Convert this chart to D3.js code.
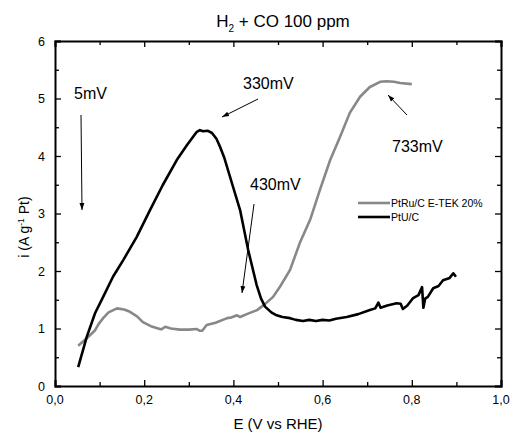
<!DOCTYPE html>
<html><head><meta charset="utf-8">
<script src="https://cdn.jsdelivr.net/npm/d3@7"></script>
<style>body{margin:0;background:#fff}svg{font-family:"Liberation Sans",Arial,sans-serif}</style>
</head><body><svg id="c" width="511" height="433"></svg>
<script>
const xTicks = [0,0.2,0.4,0.6,0.8,1.0];
const yTicks = [0,1,2,3,4,5,6];
const seriesNames = ["PtRu/C E-TEK 20%","PtU/C"];
const ptruE = [0.052,0.07,0.09,0.098,0.108,0.12,0.139,0.155,0.168,0.184,0.197,0.215,0.235,0.24,0.247,0.26,0.28,0.3,0.318,0.325,0.33,0.334,0.34,0.36,0.386,0.395,0.408,0.415,0.43,0.453,0.47,0.489,0.504,0.527,0.549,0.572,0.594,0.617,0.639,0.661,0.684,0.706,0.729,0.744,0.76,0.774,0.80];
const ptruI = [0.70,0.82,0.97,1.08,1.18,1.28,1.35,1.33,1.29,1.21,1.11,1.04,0.99,0.99,1.03,1.00,0.98,0.98,0.99,0.96,0.96,1.00,1.06,1.10,1.18,1.19,1.23,1.20,1.25,1.32,1.42,1.55,1.72,2.02,2.49,2.89,3.41,3.93,4.33,4.75,5.03,5.20,5.29,5.30,5.29,5.27,5.25];
const ptuE = [0.052,0.071,0.09,0.108,0.13,0.153,0.183,0.213,0.242,0.273,0.296,0.318,0.325,0.332,0.342,0.352,0.362,0.37,0.38,0.39,0.415,0.433,0.452,0.462,0.471,0.485,0.497,0.51,0.527,0.54,0.556,0.57,0.585,0.60,0.615,0.63,0.654,0.68,0.706,0.718,0.725,0.73,0.745,0.766,0.775,0.78,0.79,0.803,0.815,0.823,0.826,0.83,0.836,0.848,0.86,0.87,0.885,0.893,0.899];
const ptuI = [0.33,0.85,1.27,1.55,1.90,2.19,2.59,3.06,3.50,3.93,4.19,4.42,4.45,4.43,4.44,4.40,4.30,4.16,3.96,3.70,3.06,2.37,1.76,1.52,1.38,1.28,1.23,1.20,1.18,1.15,1.13,1.15,1.13,1.15,1.14,1.17,1.20,1.25,1.32,1.35,1.45,1.36,1.40,1.44,1.43,1.34,1.40,1.53,1.58,1.72,1.36,1.52,1.55,1.70,1.74,1.84,1.88,1.96,1.90];

const svg = d3.select("#c");
const x = d3.scaleLinear().domain([0,1]).range([55,501]);
const y = d3.scaleLinear().domain([0,6]).range([386,41]);
const fmt = d => d3.format(".1f")(d).replace(".",",");

const g = svg.append("g");
g.append("g").attr("transform","translate(0,386)")
 .call(d3.axisBottom(x).tickValues(d3.range(0,1.01,0.1)).tickSize(-6).tickFormat(""))
 .call(a=>a.selectAll(".tick line").attr("y2",(d,i)=>i%2?-4:-6));
g.append("g").attr("transform","translate(0,41)")
 .call(d3.axisTop(x).tickValues(d3.range(0,1.01,0.1)).tickSize(-6).tickFormat(""))
 .call(a=>a.selectAll(".tick line").attr("y2",(d,i)=>i%2?4:6));
g.append("g").attr("transform","translate(55,0)")
 .call(d3.axisLeft(y).tickValues(d3.range(0,6.01,0.5)).tickSize(-6).tickFormat(""))
 .call(a=>a.selectAll(".tick line").attr("x2",(d,i)=>i%2?4:6));
g.append("g").attr("transform","translate(501,0)")
 .call(d3.axisRight(y).tickValues(d3.range(0,6.01,0.5)).tickSize(-6).tickFormat(""))
 .call(a=>a.selectAll(".tick line").attr("x2",(d,i)=>i%2?-4:-6));
g.selectAll(".domain").attr("stroke","#000").attr("stroke-width",2);
g.selectAll(".tick line").attr("stroke","#000").attr("stroke-width",1.3);

svg.append("g").selectAll("text").data(xTicks).join("text")
 .attr("x",d=>x(d)).attr("y",404).attr("text-anchor","middle").attr("font-size",12.5).text(fmt);
svg.append("g").selectAll("text").data(yTicks).join("text")
 .attr("x",45).attr("y",d=>y(d)+4.5).attr("text-anchor","end").attr("font-size",12.5).text(d=>d);

svg.append("text").attr("x",278).attr("y",429).attr("text-anchor","middle").attr("font-size",15).text("E (V vs RHE)");
const yl = svg.append("text").attr("transform","translate(29,227) rotate(-90)").attr("text-anchor","middle").attr("font-size",14);
yl.append("tspan").text("i (A g");
yl.append("tspan").attr("dy",-5).attr("font-size",8.5).text("-1");
yl.append("tspan").attr("dy",5).text(" Pt)");
const t = svg.append("text").attr("x",283).attr("y",27).attr("text-anchor","middle").attr("font-size",17);
t.append("tspan").text("H");
t.append("tspan").attr("dy",5).attr("font-size",10).text("2");
t.append("tspan").attr("dy",-5).text(" + CO 100 ppm");

const line = d3.line().x(d=>x(d[0])).y(d=>y(d[1]));
svg.append("path").datum(d3.zip(ptruE,ptruI)).attr("d",line).attr("fill","none").attr("stroke","#888").attr("stroke-width",2.6).attr("stroke-linejoin","round");
svg.append("path").datum(d3.zip(ptuE,ptuI)).attr("d",line).attr("fill","none").attr("stroke","#000").attr("stroke-width",2.6).attr("stroke-linejoin","round");

const defs = svg.append("defs");
defs.append("marker").attr("id","ah").attr("viewBox","0 0 10 10").attr("refX",10).attr("refY",5)
 .attr("markerWidth",7).attr("markerHeight",7).attr("markerUnits","userSpaceOnUse").attr("orient","auto")
 .append("path").attr("d","M0,1.5 L10,5 L0,8.5 Z").attr("fill","#000");
const ann = [
 {t:"5mV",tx:74,ty:99,x1:81,y1:115,x2:82,y2:210},
 {t:"330mV",tx:243,ty:89,x1:258,y1:99,x2:222,y2:117},
 {t:"430mV",tx:250,ty:190,x1:254,y1:204,x2:242,y2:293},
 {t:"733mV",tx:392,ty:152,x1:407,y1:115,x2:388,y2:95}
];
ann.forEach(a=>{
 svg.append("text").attr("x",a.tx).attr("y",a.ty).attr("font-size",16).text(a.t);
 svg.append("line").attr("x1",a.x1).attr("y1",a.y1).attr("x2",a.x2).attr("y2",a.y2)
  .attr("stroke","#000").attr("stroke-width",1).attr("marker-end","url(#ah)");
});

const lg = svg.append("g");
[["#888",203],["#000",217]].forEach((c,i)=>{
 lg.append("line").attr("x1",358).attr("x2",390).attr("y1",c[1]).attr("y2",c[1]).attr("stroke",c[0]).attr("stroke-width",2.6);
 lg.append("text").attr("x",391).attr("y",c[1]+3.5).attr("font-size",10.5).text(seriesNames[i]);
});
</script></body></html>
